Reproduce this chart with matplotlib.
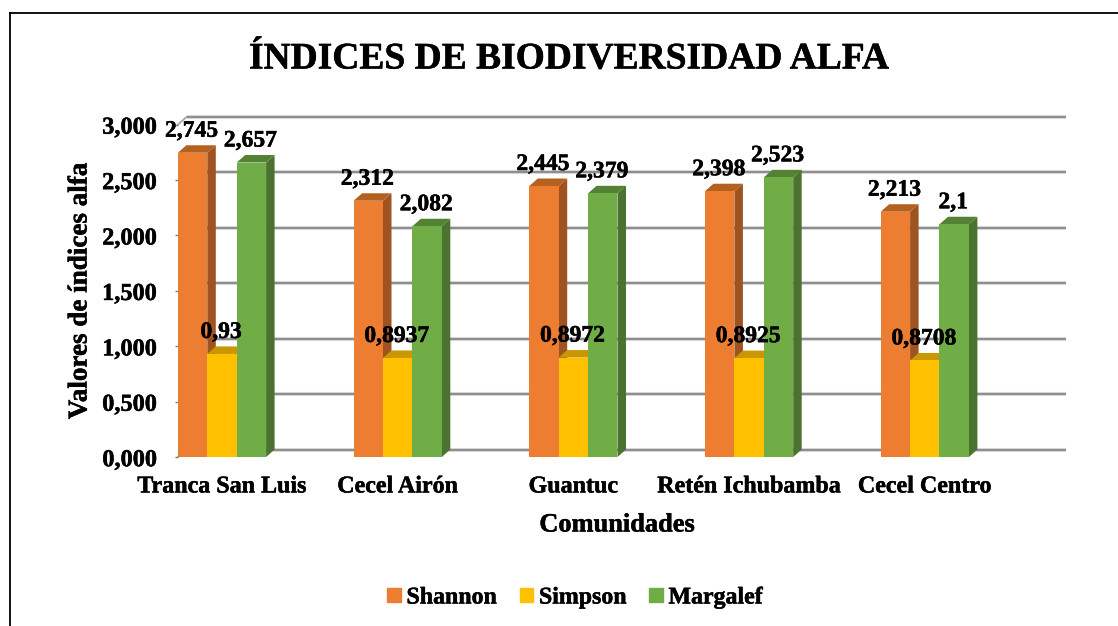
import matplotlib
matplotlib.use('Agg')
import matplotlib.pyplot as plt
import matplotlib.patheffects as pe
from matplotlib.lines import Line2D
from matplotlib.patches import Rectangle
from matplotlib.text import Text
from matplotlib.transforms import ScaledTranslation

plt.rcParams['font.family'] = ['Liberation Serif', 'DejaVu Serif']
plt.rcParams['font.weight'] = 'bold'

comunidades = ['Tranca San Luis', 'Cecel Airón', 'Guantuc', 'Retén Ichubamba', 'Cecel Centro']
shannon = [2.745, 2.312, 2.445, 2.398, 2.213]
simpson = [0.93, 0.8937, 0.8972, 0.8925, 0.8708]
margalef = [2.657, 2.082, 2.379, 2.523, 2.1]
ticks = [0, 0.5, 1, 1.5, 2, 2.5, 3]

W, H = 1118, 626
fig = plt.figure(figsize=(W/100, H/100), dpi=100, facecolor='white')
# ejes en pixeles de la imagen
x0, x1, ytop, ybot = 178, 1057, 124.5, 457
ax = fig.add_axes([x0/W, 1-ybot/H, (x1-x0)/W, (ybot-ytop)/H])
paso = 175.7
ancho = 29.4/paso
ax.set_xlim((x0-222)/paso, (x1-222)/paso)
ax.set_ylim(0, 3)
ax.patch.set_alpha(0)
for s in ax.spines.values():
    s.set_visible(False)

dx_px, dy_px = 8.5, 7.5
dx = dx_px/paso
dy = dy_px/((ybot-ytop)/3)

# rejilla en la pared del fondo
fondo = ax.transData + ScaledTranslation(dx_px*0.72/72, dy_px*0.72/72, fig.dpi_scale_trans)
xs = ax.get_xlim()
for t in ticks:
    ax.plot(xs, [t, t], color='#dcdcdc', lw=3.0, transform=fondo, zorder=1, clip_on=False, solid_capstyle='butt')
    ax.plot(xs, [t, t], color='#8e8e8e', lw=1.5, transform=fondo, zorder=1.1, clip_on=False, solid_capstyle='butt')
ax.plot([xs[0], xs[0]+dx], [3, 3+dy], color='#a6a6a6', lw=1.3, zorder=1, clip_on=False)
ax.plot([xs[0], xs[0]+dx], [0, dy], color='#a6a6a6', lw=1.3, zorder=1, clip_on=False)

series = [
    ('Shannon', shannon, '#ED7D31', '#9E5320', '#B4601F', -1),
    ('Simpson', simpson, '#FFC000', '#BF9000', '#C99700', 0),
    ('Margalef', margalef, '#70AD47', '#4A7330', '#548235', 1),
]

z = 2
for i in range(len(comunidades)):
    for nombre, vals, c, lado, tapa, pos in series:
        v = vals[i]
        xa = i + pos*ancho - ancho/2
        xb = xa + ancho
        ax.fill([xb, xb+dx, xb+dx, xb], [0, dy, v+dy, v], color=lado, lw=0, zorder=z)
        ax.fill([xa, xa+dx, xb+dx, xb], [v, v+dy, v+dy, v], color=tapa, lw=0, zorder=z)
        ax.bar(xa, v, ancho, align='edge', color=c, lw=0, zorder=z+0.1)
        z += 0.2

for nombre, vals, c, lado, tapa, pos in series:
    for i, v in enumerate(vals):
        ax.annotate(str(v).replace('.', ','), (i+pos*ancho-1/paso, v), xytext=(0, 21.5*0.72),
                    textcoords='offset points', ha='center', va='center',
                    fontsize=17, fontweight='bold', zorder=20, annotation_clip=False)

ax.set_yticks(ticks)
ax.yaxis.set_major_formatter(lambda v, p: ('%.3f' % v).replace('.', ','))
ax.tick_params(axis='y', length=2.5, width=1, color='#808080', labelsize=17.5, pad=13)
baja = ScaledTranslation(0, -1.2*0.72/72, fig.dpi_scale_trans)
for lab in ax.get_yticklabels():
    lab.set_transform(lab.get_transform() + baja)
ax.set_xticks(range(len(comunidades)))
ax.set_xticklabels(comunidades)
ax.tick_params(axis='x', length=0, labelsize=17.3, pad=14)

fig.text(569/W, 1-59/H, 'ÍNDICES DE BIODIVERSIDAD ALFA', ha='center', va='center', fontsize=27, fontweight='bold')
fig.text(617/W, 1-525/H, 'Comunidades', ha='center', va='center', fontsize=19, fontweight='bold')
fig.text(80/W, 1-291/H, 'Valores de índices alfa', ha='center', va='center', rotation=90, fontsize=19.5, fontweight='bold')

handles = [Rectangle((0, 0), 1, 1, color=s[2]) for s in series]
fig.legend(handles, [s[0] for s in series], loc='center', bbox_to_anchor=(575/W, 1-598/H), ncol=3,
           frameon=False, fontsize=17.2, handlelength=0.55, handleheight=0.55, handletextpad=0.25, columnspacing=0.95)

# marco: solo arriba y a la izquierda
for xa, ya, xb, yb in [(10, 13, 10, 626), (10, 13, 1118, 13)]:
    fig.add_artist(Line2D([xa/W, xb/W], [1-ya/H, 1-yb/H], color='black', lw=1.3))

for t in fig.findobj(Text):
    t.set_path_effects([pe.withStroke(linewidth=0.35, foreground='black')])

fig.savefig('out.png', dpi=100)
